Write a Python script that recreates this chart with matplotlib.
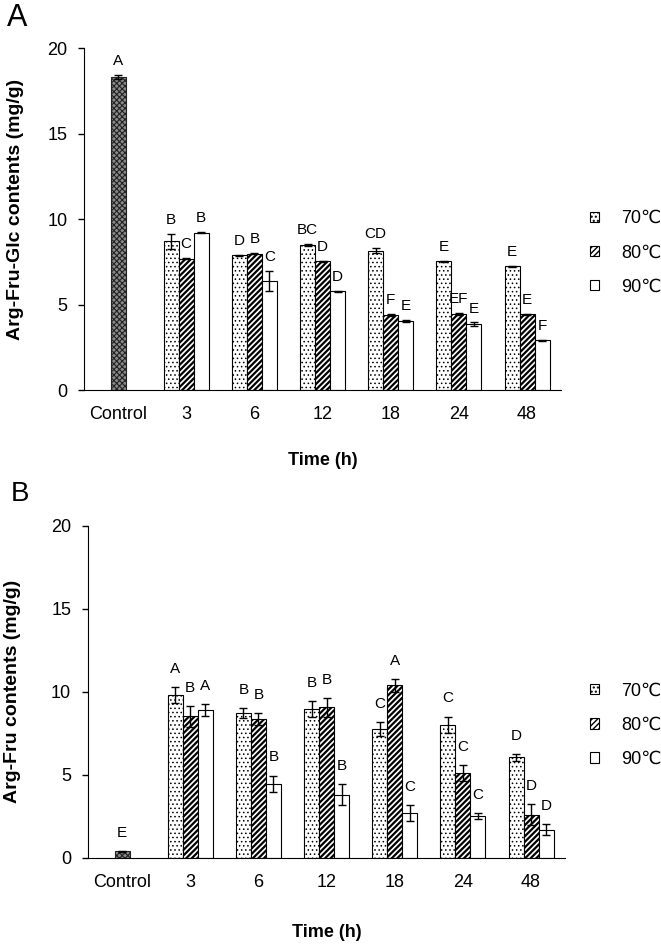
import matplotlib
matplotlib.use("Agg")
import matplotlib.pyplot as plt
from matplotlib.patches import Patch
import numpy as np

plt.rcParams['font.family'] = ['Liberation Sans', 'DejaVu Sans']

categories = ['Control', '3', '6', '12', '18', '24', '48']
series = ['70℃', '80℃', '90℃']

# panel A: Arg-Fru-Glc
a_control = 18.32
a_control_err = 0.1
a_control_letter = 'A'
a_70 = [8.70, 7.89, 8.48, 8.15, 7.53, 7.25]
a_70_err = [0.44, 0.03, 0.05, 0.15, 0.05, 0.03]
a_80 = [7.68, 7.99, 7.54, 4.39, 4.44, 4.44]
a_80_err = [0.03, 0.03, 0.03, 0.05, 0.05, 0.03]
a_90 = [9.20, 6.37, 5.79, 4.04, 3.86, 2.92]
a_90_err = [0.03, 0.58, 0.03, 0.05, 0.10, 0.03]
a_70_letters = ['B', 'D', 'BC', 'CD', 'E', 'E']
a_80_letters = ['C', 'B', 'D', 'F', 'EF', 'E']
a_90_letters = ['B', 'C', 'D', 'E', 'E', 'F']

# panel B: Arg-Fru
b_control = 0.40
b_control_err = 0.02
b_control_letter = 'E'
b_70 = [9.82, 8.72, 8.98, 7.76, 8.03, 6.05]
b_70_err = [0.48, 0.28, 0.48, 0.42, 0.48, 0.21]
b_80 = [8.52, 8.36, 9.06, 10.38, 5.11, 2.60]
b_80_err = [0.63, 0.35, 0.57, 0.37, 0.48, 0.62]
b_90 = [8.92, 4.47, 3.81, 2.70, 2.50, 1.70]
b_90_err = [0.35, 0.49, 0.64, 0.50, 0.18, 0.32]
b_70_letters = ['A', 'B', 'B', 'C', 'C', 'D']
b_80_letters = ['B', 'B', 'B', 'A', 'C', 'D']
b_90_letters = ['A', 'B', 'B', 'C', 'C', 'D']

styles = [dict(facecolor='white', hatch='....'),
          dict(facecolor='white', hatch='//////'),
          dict(facecolor='white', hatch='')]
hatch_lw = [0.6, 1.6, 1.0]
control_style = dict(facecolor='#8a8a8a', hatch='xxxxxx')

w = 0.22


def draw_panel(ax, ctrl, ctrl_err, ctrl_letter, vals, errs, letters, ylabel, gap):
    x = np.arange(1, len(categories))
    with plt.rc_context({'hatch.linewidth': 0.8}):
        ax.bar(0, ctrl, w, edgecolor='#222222', linewidth=0.8, **control_style)
    ax.errorbar(0, ctrl, yerr=ctrl_err, fmt='none', ecolor='black', elinewidth=1, capsize=3)
    ax.annotate(ctrl_letter, (0, ctrl + ctrl_err), xytext=(0, gap), textcoords='offset points',
                ha='center', va='bottom', fontsize=11)
    for k in range(3):
        xs = x + (k - 1) * w
        with plt.rc_context({'hatch.linewidth': hatch_lw[k]}):
            ax.bar(xs, vals[k], w, edgecolor='black', linewidth=0.8, **styles[k])
        ax.errorbar(xs, vals[k], yerr=errs[k], fmt='none', ecolor='black', elinewidth=1, capsize=3)
        for xi, v, e, t in zip(xs, vals[k], errs[k], letters[k]):
            ax.annotate(t, (xi, v + e), xytext=(0, gap), textcoords='offset points',
                        ha='center', va='bottom', fontsize=11)
    ax.set_xlim(-0.5, 6.5)
    ax.set_ylim(0, 20)
    ax.set_yticks([0, 5, 10, 15, 20])
    ax.set_xticks(range(len(categories)))
    ax.set_xticklabels(categories)
    ax.spines['top'].set_visible(False)
    ax.spines['right'].set_visible(False)
    ax.tick_params(axis='x', length=0, pad=11.5, labelsize=13)
    ax.tick_params(axis='y', length=4, width=1, pad=8, labelsize=13)
    ax.set_ylabel(ylabel, fontsize=14, fontweight='bold')
    ax.set_xlabel('Time (h)', fontsize=13, fontweight='bold')


fig = plt.figure(figsize=(6.61, 9.47), dpi=100)

ax1 = fig.add_axes([0.127, 0.588, 0.722, 0.361])
draw_panel(ax1, a_control, a_control_err, a_control_letter,
           [a_70, a_80, a_90], [a_70_err, a_80_err, a_90_err],
           [a_70_letters, a_80_letters, a_90_letters],
           'Arg-Fru-Glc contents (mg/g)', 5)
ax1.yaxis.set_label_coords(-0.126, 0.53)
ax1.xaxis.set_label_coords(0.5, -0.18)

ax2 = fig.add_axes([0.133, 0.094, 0.722, 0.351])
draw_panel(ax2, b_control, b_control_err, b_control_letter,
           [b_70, b_80, b_90], [b_70_err, b_80_err, b_90_err],
           [b_70_letters, b_80_letters, b_90_letters],
           'Arg-Fru contents (mg/g)', 8)
ax2.yaxis.set_label_coords(-0.14, 0.5)
ax2.xaxis.set_label_coords(0.5, -0.2)

handles = []
for s, lw in zip(styles, hatch_lw):
    with plt.rc_context({'hatch.linewidth': lw}):
        handles.append(Patch(edgecolor='black', linewidth=0.8, **s))
for ax, yc in [(ax1, 0.733), (ax2, 0.234)]:
    fig.legend(handles, series, loc='center left', bbox_to_anchor=(0.893, yc),
               frameon=False, fontsize=13, handlelength=0.5, handleheight=0.5,
               handletextpad=1.2, labelspacing=0.95, borderpad=0, borderaxespad=0)

fig.text(0.01, 0.981, 'A', fontsize=22, ha='left', va='center')
fig.text(0.016, 0.478, 'B', fontsize=20, ha='left', va='center')

fig.savefig('out.png', dpi=100)
